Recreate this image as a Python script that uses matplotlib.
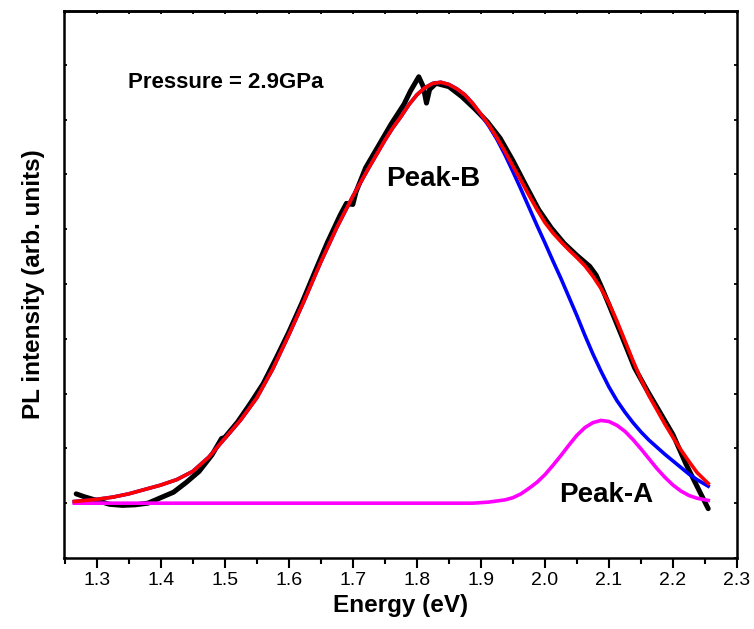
import matplotlib
matplotlib.use('Agg')
import matplotlib.pyplot as plt
from matplotlib.ticker import MultipleLocator, FormatStrFormatter

plt.rcParams['font.family'] = ['Liberation Sans', 'DejaVu Sans']

# fitted curves (arb. units, baseline = 0)
fit_x = [1.265, 1.30, 1.325, 1.35, 1.375, 1.40, 1.425, 1.45, 1.475, 1.50,
         1.525, 1.55, 1.575, 1.60, 1.625, 1.65, 1.675, 1.70, 1.725, 1.75,
         1.7625, 1.775, 1.7875, 1.80, 1.8125, 1.825, 1.8375, 1.85, 1.8625, 1.875,
         1.8875, 1.90, 1.9125, 1.925, 1.9375, 1.95, 1.9625, 1.975, 1.9875, 2.00,
         2.0125, 2.025, 2.0375, 2.05, 2.0625, 2.075, 2.0875, 2.10, 2.1125, 2.125,
         2.1375, 2.15, 2.1625, 2.175, 2.1875, 2.20, 2.2125, 2.225, 2.2375, 2.255]
fit_total = [0.03, 0.07, 0.11, 0.17, 0.25, 0.33, 0.43, 0.58, 0.84, 1.18,
             1.52, 1.92, 2.45, 3.07, 3.72, 4.40, 5.03, 5.60, 6.12, 6.62,
             6.85, 7.05, 7.27, 7.45, 7.58, 7.66, 7.68, 7.64, 7.56, 7.45,
             7.29, 7.10, 6.90, 6.67, 6.42, 6.15, 5.89, 5.62, 5.36, 5.12,
             4.93, 4.77, 4.62, 4.48, 4.33, 4.14, 3.92, 3.65, 3.32, 2.96,
             2.60, 2.26, 1.96, 1.70, 1.44, 1.20, 0.97, 0.76, 0.56, 0.36]
peak_b = [0.03, 0.07, 0.11, 0.17, 0.25, 0.33, 0.43, 0.58, 0.84, 1.18,
          1.52, 1.92, 2.45, 3.07, 3.72, 4.40, 5.03, 5.60, 6.12, 6.62,
          6.85, 7.05, 7.27, 7.45, 7.58, 7.66, 7.68, 7.64, 7.56, 7.45,
          7.29, 7.09, 6.88, 6.64, 6.36, 6.05, 5.73, 5.40, 5.07, 4.75,
          4.42, 4.10, 3.76, 3.42, 3.06, 2.72, 2.41, 2.12, 1.87, 1.66,
          1.47, 1.30, 1.15, 1.02, 0.89, 0.77, 0.65, 0.53, 0.43, 0.31]
peak_a = [0, 0, 0, 0, 0, 0, 0, 0, 0, 0,
          0, 0, 0, 0, 0, 0, 0, 0, 0, 0,
          0, 0, 0, 0, 0, 0, 0, 0, 0, 0,
          0, 0.01, 0.02, 0.04, 0.06, 0.10, 0.17, 0.27, 0.38, 0.52,
          0.69, 0.87, 1.06, 1.24, 1.38, 1.47, 1.51, 1.49, 1.42, 1.31,
          1.16, 0.99, 0.81, 0.63, 0.47, 0.33, 0.22, 0.14, 0.09, 0.05]

# measured PL spectrum
pl_x = [1.268, 1.28, 1.30, 1.32, 1.34, 1.36, 1.38, 1.40, 1.42, 1.44,
        1.46, 1.48, 1.495, 1.50, 1.52, 1.54, 1.56, 1.58, 1.60, 1.62,
        1.64, 1.66, 1.68, 1.69, 1.70, 1.705, 1.72, 1.74, 1.76, 1.78,
        1.79, 1.80, 1.803, 1.81, 1.815, 1.82, 1.83, 1.85, 1.87, 1.89,
        1.91, 1.93, 1.95, 1.97, 1.99, 2.01, 2.03, 2.05, 2.06, 2.07,
        2.08, 2.09, 2.10, 2.12, 2.14, 2.16, 2.18, 2.20, 2.22, 2.24, 2.255]
pl_y = [0.17, 0.12, 0.05, -0.02, -0.04, -0.03, 0.0, 0.10, 0.20, 0.38,
        0.58, 0.88, 1.18, 1.20, 1.48, 1.82, 2.18, 2.64, 3.12, 3.64,
        4.20, 4.75, 5.25, 5.47, 5.45, 5.68, 6.12, 6.52, 6.92, 7.28,
        7.52, 7.72, 7.78, 7.60, 7.30, 7.55, 7.66, 7.60, 7.42, 7.20,
        6.96, 6.66, 6.25, 5.80, 5.36, 5.02, 4.74, 4.52, 4.42, 4.32,
        4.16, 3.90, 3.62, 3.05, 2.47, 2.05, 1.65, 1.25, 0.72, 0.25, -0.10]

fig = plt.figure(figsize=(7.54, 6.29), dpi=100)
ax = fig.add_axes([0.0849, 0.1129, 0.8926, 0.8696])

ax.plot(pl_x, pl_y, color='black', linewidth=3.6, solid_capstyle='round',
        solid_joinstyle='round', zorder=2)
ax.plot(fit_x, peak_b, color='#0000FF', linewidth=2.6, zorder=3)
ax.plot(fit_x, peak_a, color='#FF00FF', linewidth=2.6, zorder=3)
ax.plot(fit_x, fit_total, color='#FF0000', linewidth=2.6, zorder=4)

ax.set_xlim(1.249, 2.30)
ax.set_ylim(-1.0, 8.98)
ax.xaxis.set_major_locator(MultipleLocator(0.1))
ax.xaxis.set_minor_locator(MultipleLocator(0.05))
ax.xaxis.set_major_formatter(FormatStrFormatter('%.1f'))
ax.yaxis.set_major_locator(MultipleLocator(1))

ax.tick_params(axis='x', which='major', direction='out', length=7, width=1.5,
               labelsize=14, pad=3, top=False)
ax.tick_params(axis='x', which='minor', direction='out', length=4, width=1.5, top=False)
ax.tick_params(axis='y', which='major', direction='in', length=2.5, width=1.3,
               right=True, labelleft=False)
for s in ax.spines.values():
    s.set_linewidth(1.8)

# small inward ticks on top
top = ax.secondary_xaxis('top')
top.xaxis.set_major_locator(MultipleLocator(0.05))
top.tick_params(direction='in', length=2.5, width=1.3, labeltop=False)
top.spines['top'].set_linewidth(1.8)

ax.set_xlabel('Energy (eV)', fontsize=17.5, fontweight='bold', labelpad=4)
ax.set_ylabel('PL intensity (arb. units)', fontsize=17.5, fontweight='bold', labelpad=14)

ax.text(1.349, 7.68, 'Pressure = 2.9GPa', fontsize=16, fontweight='bold',
        ha='left', va='center')
ax.text(1.825, 5.92, 'Peak-B', fontsize=20, fontweight='bold', ha='center', va='center')
ax.text(2.096, 0.15, 'Peak-A', fontsize=20, fontweight='bold', ha='center', va='center')

plt.savefig('out.png', dpi=100)
